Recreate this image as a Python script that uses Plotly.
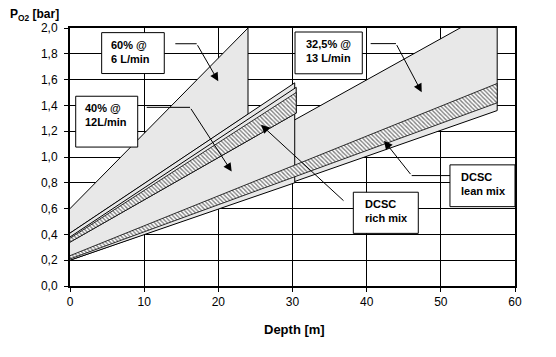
import plotly.graph_objects as go

# ---------------- data ----------------
# each band: depth range and PO2 at both ends of its lower / upper edge
band60_depth = [0, 24]
band60_low = [0.41, 1.33]
band60_high = [0.60, 2.00]

band325_depth = [0, 57.6]
band325_low = [0.20, 1.36]
band325_high = [0.32, 2.16]

band40_depth = [0, 30.3]
band40_low = [0.20, 0.80]
band40_high = [0.41, 1.575]

rich_depth = [0, 30.5]
rich_low = [0.34, 1.34]
rich_high = [0.38, 1.54]
rich_hatch_high = [0.37, 1.50]

lean_depth = [0, 57.6]
lean_low = [0.21, 1.42]
lean_high = [0.235, 1.57]

x_ticks = [0, 10, 20, 30, 40, 50, 60]
y_ticks = [0.0, 0.2, 0.4, 0.6, 0.8, 1.0, 1.2, 1.4, 1.6, 1.8, 2.0]

# callouts: text, box (x0, x1, y0, y1), text anchor, leader (horizontal part), arrow tail -> tip
callout_texts = ["60% @<br>6 L/min", "40% @<br>12L/min", "32,5% @<br>13 L/min",
                 "DCSC<br>rich mix", "DCSC<br>lean mix"]
callout_boxes = [(4.27, 12.71, 1.647, 1.964), (0.77, 9.13, 1.077, 1.471),
                 (30.34, 39.41, 1.645, 1.969), (38.2, 46.96, 0.408, 0.727),
                 (51.23, 60.0, 0.615, 0.939)]
callout_text_pos = [(5.2, 1.93), (1.8, 1.44), (31.6, 1.935), (39.5, 0.695), (52.4, 0.905)]
callout_hlines = [(14.2, 17.08, 1.878), (10.34, 16.18, 1.385), (40.54, 43.95, 1.879),
                  None, (46.07, 51.23, 0.856)]
callout_arrows = [((17.08, 1.878), (19.99, 1.588)), ((16.18, 1.385), (21.8, 0.887)),
                  ((43.95, 1.879), (47.42, 1.502)), ((37.08, 0.651), (25.75, 1.25)),
                  ((46.07, 0.856), (42.34, 1.126))]

GRAY = "#E8E8E8"
FONT = "Liberation Sans, Arial, sans-serif"


def polygon(depth, low, high):
    return list(depth) + list(depth[::-1]), list(low) + list(high[::-1])


fig = go.Figure()

for depth, low, high in [(band60_depth, band60_low, band60_high),
                         (band325_depth, band325_low, band325_high),
                         (band40_depth, band40_low, band40_high),
                         (rich_depth, rich_low, rich_high)]:
    px_, py_ = polygon(depth, low, high)
    fig.add_trace(go.Scatter(x=px_, y=py_, mode="lines", fill="toself",
                             fillcolor=GRAY, line=dict(color="black", width=1),
                             hoverinfo="skip", showlegend=False))

for depth, low, high in [(rich_depth, rich_low, rich_hatch_high),
                         (lean_depth, lean_low, lean_high)]:
    px_, py_ = polygon(depth, low, high)
    fig.add_trace(go.Scatter(x=px_, y=py_, mode="lines", fill="toself",
                             fillcolor="white",
                             fillpattern=dict(shape="\\", fgcolor="black", bgcolor="white",
                                              size=3, solidity=0.45),
                             line=dict(color="black", width=0.8),
                             hoverinfo="skip", showlegend=False))

shapes = []
annotations = []
for text, box, tp, hl, arr in zip(callout_texts, callout_boxes, callout_text_pos,
                                  callout_hlines, callout_arrows):
    x0, x1, y0, y1 = box
    shapes.append(dict(type="rect", xref="x", yref="y", x0=x0, x1=x1, y0=y0, y1=y1,
                       fillcolor="white", line=dict(color="black", width=1), layer="above"))
    annotations.append(dict(x=tp[0], y=tp[1], xref="x", yref="y", text="<b>" + text + "</b>",
                            showarrow=False, xanchor="left", yanchor="top", align="left",
                            font=dict(family=FONT, size=11, color="black")))
    if hl is not None:
        shapes.append(dict(type="line", xref="x", yref="y", x0=hl[0], x1=hl[1], y0=hl[2], y1=hl[2],
                           line=dict(color="black", width=1), layer="above"))
    (tx, ty), (hx, hy) = arr
    annotations.append(dict(x=hx, y=hy, ax=tx, ay=ty, xref="x", yref="y", axref="x", ayref="y",
                            text="", showarrow=True, arrowhead=2, arrowsize=1.7, arrowwidth=1,
                            arrowcolor="black", standoff=0))

annotations.append(dict(x=-0.139, y=1.052, xref="paper", yref="paper", xanchor="left", yanchor="middle",
                        text="<b>P<sub>O2</sub> [bar]</b>", showarrow=False,
                        font=dict(family=FONT, size=12, color="black")))
annotations.append(dict(x=0.504, y=-0.168, xref="paper", yref="paper", xanchor="center", yanchor="middle",
                        text="<b>Depth [m]</b>", showarrow=False,
                        font=dict(family=FONT, size=13, color="black")))

# the page body adds an 8 px offset, so the figure is 8 px smaller and margins shifted
fig.update_layout(
    width=548, height=349, autosize=False,
    margin=dict(l=62, r=41, t=20, b=71),
    paper_bgcolor="white", plot_bgcolor="white",
    separators=",.",
    shapes=shapes, annotations=annotations,
    font=dict(family=FONT, size=12, color="black"),
)
fig.update_xaxes(range=[0, 60], tickvals=x_ticks, ticks="outside", ticklen=4, tickwidth=1,
                 tickcolor="black", showgrid=True, gridcolor="black", gridwidth=1,
                 showline=True, linecolor="black", linewidth=2, mirror=True, zeroline=False,
                 tickfont=dict(family=FONT, size=12, color="black"))
fig.update_yaxes(range=[0, 2], tickvals=y_ticks, tickformat=".1f", ticks="outside", ticklen=4,
                 tickwidth=1, tickcolor="black", showgrid=True, gridcolor="black", gridwidth=1,
                 showline=True, linecolor="black", linewidth=2, mirror=True, zeroline=False,
                 ticklabelstandoff=4,
                 tickfont=dict(family=FONT, size=12, color="black"))

fig.write_html("out.html")
